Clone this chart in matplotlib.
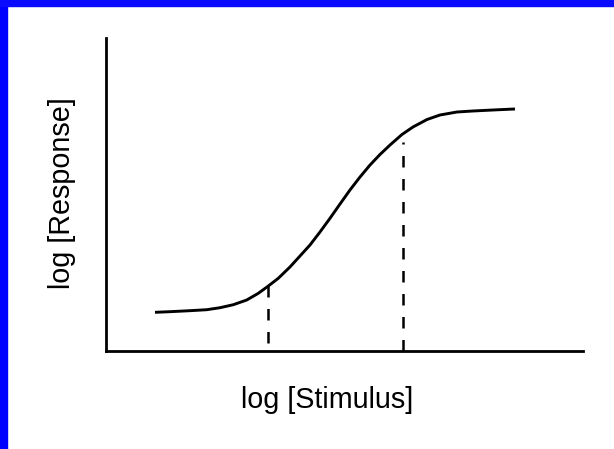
import numpy as np
import matplotlib
matplotlib.use('Agg')
import matplotlib.pyplot as plt
from matplotlib.patches import Rectangle

# curve (arbitrary log units)
curve_x = [1.027, 1.342, 1.761, 2.111, 2.390, 2.669, 2.950, 3.193, 3.403,
           3.612, 3.857, 4.067, 4.277, 4.486, 4.696, 4.906, 5.115, 5.325,
           5.535, 5.744, 5.954, 6.205, 6.436, 6.730, 7.002, 7.358, 7.694,
           8.113, 8.574]
curve_y = [1.236, 1.256, 1.288, 1.319, 1.383, 1.479, 1.629, 1.843, 2.077,
           2.323, 2.684, 3.035, 3.387, 3.802, 4.240, 4.696, 5.144, 5.559,
           5.942, 6.278, 6.581, 6.917, 7.157, 7.396, 7.540, 7.636, 7.668,
           7.700, 7.732]

# dashed markers: x position, top, bottom
mark_x = [3.40, 6.23]
mark_top = [2.07, 6.68]
mark_bot = [0.26, 0.0]

xlabel = 'log [Stimulus]'
ylabel = 'log [Response]'

plt.rcParams['font.family'] = ['Liberation Sans', 'DejaVu Sans']

fig = plt.figure(figsize=(6.14, 4.49), dpi=100)
W, H = 614, 449
ax = fig.add_axes([106 / W, 1 - 351 / H, (583 - 106) / W, (351 - 38) / H])

ax.plot(curve_x, curve_y, color='black', lw=2.1,
        solid_joinstyle='round', solid_capstyle='butt')
for x, t, b in zip(mark_x, mark_top, mark_bot):
    ax.plot([x, x], [b, t], color='black', lw=1.8, dashes=(4.6, 4.6))

ax.set_xlim(0, 10)
ax.set_ylim(0, 10)
ax.spines['top'].set_visible(False)
ax.spines['right'].set_visible(False)
ax.spines['left'].set_linewidth(2.0)
ax.spines['bottom'].set_linewidth(2.0)
ax.set_xticks([])
ax.set_yticks([])

fig.text(327.5 / W, 1 - 400 / H, xlabel, fontsize=20.7, ha='center', va='center')
fig.text(61.5 / W, 1 - 193.5 / H, ylabel, fontsize=20.7, ha='center', va='center',
         rotation=90)

# blue frame on left and top edges
fig.patches.append(Rectangle((0, 0), 7 / W, 1, transform=fig.transFigure,
                             color='#0000ff', zorder=10))
fig.patches.append(Rectangle((0, 1 - 6 / H), 1, 6 / H, transform=fig.transFigure,
                             color='#0a0aff', zorder=10))

fig.savefig('out.png', dpi=100)
